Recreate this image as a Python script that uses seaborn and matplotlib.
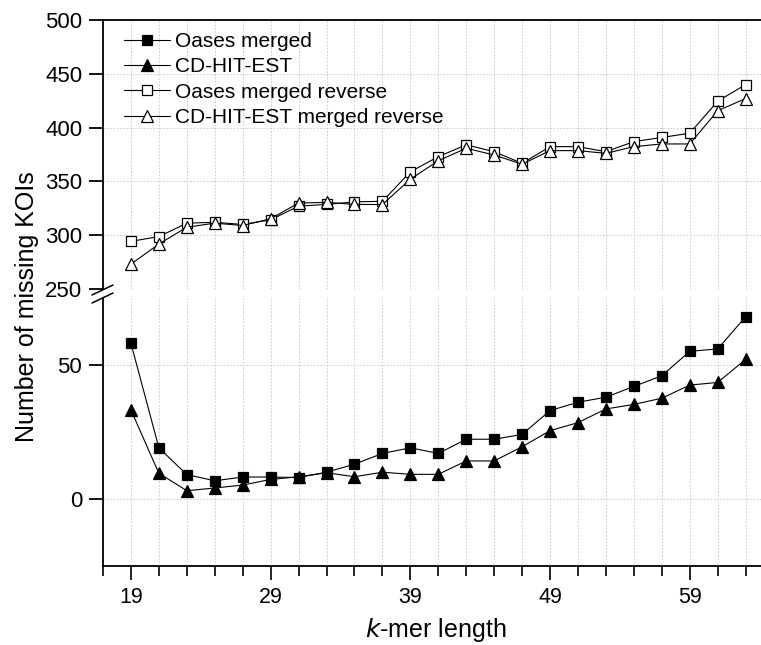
import matplotlib
matplotlib.use("Agg")
import matplotlib.pyplot as plt
import seaborn as sns
import numpy as np
import pandas as pd
from matplotlib.lines import Line2D

k = list(range(19, 64, 2))
oases_merged = [58.1, 19.1, 9.1, 6.8, 8.2, 8.2, 8.0, 10.0, 13.0, 17.0, 19.1, 17.0, 22.3, 22.3,
                24.1, 33.0, 36.1, 38.0, 42.0, 46.0, 55.1, 56.0, 68.0]
cdhit = [33.2, 9.6, 3.1, 4.1, 5.2, 7.3, 8.3, 9.8, 8.3, 10.0, 9.2, 9.2, 14.2, 14.2,
         19.5, 25.5, 28.5, 33.6, 35.3, 37.6, 42.5, 43.5, 52.1]
oases_rev = [294.3, 298.7, 311.2, 312.0, 310.0, 314.3, 327.0, 328.6, 331.0, 331.5, 358.9, 373.0,
             384.0, 377.6, 366.8, 382.3, 382.3, 377.6, 387.0, 390.8, 394.8, 424.5, 440.0]
cdhit_rev = [273.1, 291.8, 307.4, 311.2, 309.0, 315.3, 329.9, 330.5, 328.6, 328.5, 352.0, 369.2,
             380.8, 374.5, 366.0, 378.6, 378.6, 376.1, 382.3, 384.8, 384.8, 415.7, 427.0]
labels = ["Oases merged", "CD-HIT-EST", "Oases merged reverse", "CD-HIT-EST merged reverse"]
major_xticks = [19, 29, 39, 49, 59]

sns.set_theme(style="white")
plt.rcParams['font.family'] = ['Liberation Sans', 'DejaVu Sans']
plt.rcParams.update({"text.color": "black", "axes.labelcolor": "black",
                     "xtick.color": "black", "ytick.color": "black"})

W, H = 761, 645
fig = plt.figure(figsize=(W / 100, H / 100), dpi=100)
left = 103 / W
width = 1 - left
ax_top = fig.add_axes([left, 1 - 289 / H, width, (289 - 20) / H])
ax_bot = fig.add_axes([left, 1 - 566 / H, width, (566 - 298) / H])

line_kw = dict(color="black", linewidth=0.8, markeredgecolor="black", markeredgewidth=0.9)
series = [
    (ax_bot, oases_merged, "s", "black", 7.8, labels[0]),
    (ax_bot, cdhit, "^", "black", 9.3, labels[1]),
    (ax_top, oases_rev, "s", "white", 7.8, labels[2]),
    (ax_top, cdhit_rev, "^", "white", 9.3, labels[3]),
]
for ax, vals, mk, fc, ms, lab in series:
    df = pd.DataFrame({"k": k, "v": vals})
    sns.lineplot(data=df, x="k", y="v", ax=ax, marker=mk, markersize=ms,
                 markerfacecolor=fc, legend=False, zorder=3, **line_kw)

xlim = (17.0, 64.1)
for ax in (ax_top, ax_bot):
    ax.set_xlim(*xlim)
    ax.set_xlabel("")
    ax.set_ylabel("")
    ax.spines["right"].set_visible(False)
    ax.spines["left"].set_linewidth(1.3)
    ax.spines["left"].set_color("black")
    ax.set_xticks(k, minor=False)
    for x in k:
        ax.axvline(x, color="#c4c4c4", linestyle=(0, (2, 2)), linewidth=0.6, zorder=0)
    ax.tick_params(axis="y", direction="out", length=10, width=1.3, color="black",
                   labelcolor="black", labelsize=16, left=True, pad=5)

ax_top.set_ylim(250, 500)
ax_top.set_yticks([250, 300, 350, 400, 450, 500])
ax_top.spines["bottom"].set_visible(False)
ax_top.spines["top"].set_linewidth(1.3)
ax_top.spines["top"].set_color("black")
ax_top.tick_params(axis="x", bottom=False, labelbottom=False)
for y in [300, 350, 400, 450]:
    ax_top.axhline(y, color="#c4c4c4", linestyle=(0, (2, 2)), linewidth=0.6, zorder=0)

ax_bot.set_ylim(-25, 75)
ax_bot.set_yticks([0, 50])
ax_bot.spines["top"].set_visible(False)
ax_bot.spines["bottom"].set_linewidth(1.3)
ax_bot.spines["bottom"].set_color("black")
ax_bot.set_xticks(major_xticks)
ax_bot.set_xticks([17] + [x for x in k if x not in major_xticks], minor=True)
ax_bot.tick_params(axis="x", which="major", direction="out", length=10, width=1.2,
                   color="black", labelcolor="black", labelsize=15.5, bottom=True, pad=5)
ax_bot.tick_params(axis="x", which="minor", direction="out", length=7, width=1.2,
                   color="black", bottom=True)
for y in [0, 50]:
    ax_bot.axhline(y, color="#c4c4c4", linestyle=(0, (2, 2)), linewidth=0.6, zorder=0)

# axis labels
fig.text(27 / W, 1 - 307 / H, "Number of missing KOIs", rotation=90, ha="center",
         va="center", fontsize=18, color="black")
fig.text(436 / W, 1 - 630 / H, r"$\it{k}$-mer length", ha="center",
         va="center", fontsize=18, color="black")

# break marks
for yb in (290, 298):
    fig.add_artist(Line2D([92 / W, 113 / W], [1 - (yb + 5) / H, 1 - (yb - 5) / H],
                          color="black", linewidth=1.1, transform=fig.transFigure))

# legend
handles = [
    Line2D([], [], marker="s", markersize=7.8, markerfacecolor="black", **line_kw),
    Line2D([], [], marker="^", markersize=9.3, markerfacecolor="black", **line_kw),
    Line2D([], [], marker="s", markersize=7.8, markerfacecolor="white", **line_kw),
    Line2D([], [], marker="^", markersize=9.3, markerfacecolor="white", **line_kw),
]
leg = ax_top.legend(handles, labels, loc="upper left", bbox_to_anchor=(0.026, 0.97),
                    frameon=False, fontsize=15, handlelength=2.2, handletextpad=0.25,
                    labelspacing=0.3, borderpad=0.2, borderaxespad=0)
for t in leg.get_texts():
    t.set_color("black")

fig.savefig("out.png", dpi=100)
